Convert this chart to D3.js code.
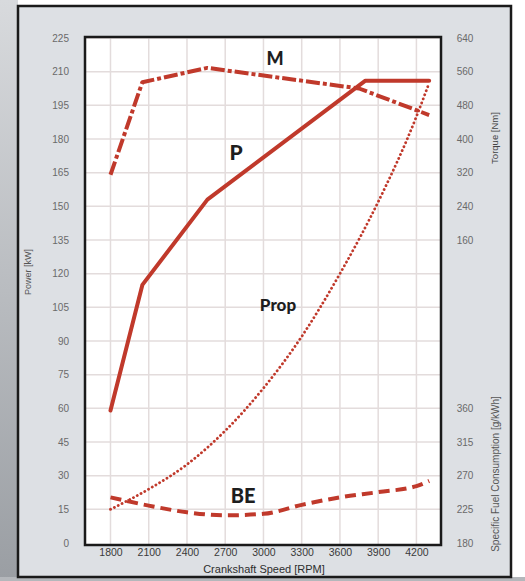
<!DOCTYPE html>
<html>
<head>
<meta charset="utf-8">
<script src="https://cdn.jsdelivr.net/npm/d3@7"></script>
<style>
  body { margin: 0; background: #fff; }
  svg { display: block; }
</style>
</head>
<body>
<div id="chart"></div>
<script>
// engine curves
const rpmPower = [1800, 2050, 2560, 3800, 4300];
const power = [59, 115, 153, 206, 206];

const rpmTorque = [1800, 2050, 2560, 3750, 4300];
const torque = [315, 535, 569, 520, 457];

const rpmProp = [1800, 2100, 2400, 2700, 3000, 3300, 3600, 3900, 4200, 4300];
const propPower = [15, 24, 35, 50, 69, 92, 120, 152, 190, 205];

const rpmBE = [1800, 2100, 2400, 2700, 3000, 3300, 3600, 3900, 4200, 4300];
const sfc = [241, 230, 221, 217, 219, 231, 241, 248, 256, 263];

const rpmTicks = [1800, 2100, 2400, 2700, 3000, 3300, 3600, 3900, 4200];
const powerTicks = d3.range(0, 226, 15);
const torqueTicks = [160, 240, 320, 400, 480, 560, 640];
const sfcTicks = [180, 225, 270, 315, 360];

const W = 525, H = 581;
const red = "#c0392b";
const plotL = 85, plotR = 441, plotT = 37, plotB = 545;

const svg = d3.select("#chart").append("svg")
    .attr("width", W)
    .attr("height", H);

// background panel
let defs = svg.append("defs");
let grad = defs.append("linearGradient").attr("id", "edge").attr("x1", 0).attr("x2", 0).attr("y1", 0).attr("y2", 1);
grad.append("stop").attr("offset", "0%").attr("stop-color", "#d8dadd");
grad.append("stop").attr("offset", "100%").attr("stop-color", "#9a9ea3");
svg.append("rect").attr("x", 0).attr("y", 0).attr("width", 18).attr("height", H).style("fill", "url(#edge)");
svg.append("rect").attr("x", 0).attr("y", 577).attr("width", W).attr("height", 4).style("fill", "#b4b7bb");

svg.append("rect")
    .attr("x", 18).attr("y", 6)
    .attr("width", 493).attr("height", 571)
    .style("fill", "#dde0e4")
    .style("stroke", "#1a1a1a")
    .style("stroke-width", 2.5);

var x = d3.scaleLinear().domain([1600, 4385]).range([plotL, plotR - 1]);
var yP = d3.scaleLinear().domain([0, 225]).range([543, 38]);
var yT = d3.scaleLinear().domain([0, 640]).range([yP(105), yP(225)]);
var yS = d3.scaleLinear().domain([180, 360]).range([yP(0), yP(60)]);

// plot area
svg.append("rect")
    .attr("x", plotL).attr("y", plotT)
    .attr("width", plotR - plotL).attr("height", plotB - plotT)
    .style("fill", "#ffffff");

// grid
svg.append("g").selectAll("line")
    .data(powerTicks.slice(1))
    .enter().append("line")
    .attr("x1", plotL).attr("x2", plotR)
    .attr("y1", (d) => yP(d)).attr("y2", (d) => yP(d))
    .style("stroke", "#e3dcdc").style("stroke-width", 1.5);

svg.append("g").selectAll("line")
    .data(rpmTicks)
    .enter().append("line")
    .attr("x1", (d) => x(d)).attr("x2", (d) => x(d))
    .attr("y1", plotT).attr("y2", plotB)
    .style("stroke", "#e3dcdc").style("stroke-width", 1.5);

svg.append("rect")
    .attr("x", plotL).attr("y", plotT)
    .attr("width", plotR - plotL).attr("height", plotB - plotT)
    .style("fill", "none")
    .style("stroke", "#1a1a1a")
    .style("stroke-width", 2.5);

// axes
let styleAxis = (g, color) => {
    g.select(".domain").remove();
    g.selectAll("text")
        .style("font-family", "'Liberation Sans', Arial, sans-serif")
        .style("font-size", "10px")
        .style("fill", color);
};

svg.append("g")
    .attr("transform", "translate(" + plotL + ",0)")
    .call(d3.axisLeft(yP).tickValues(powerTicks).tickSize(0).tickPadding(16))
    .call((g) => styleAxis(g, "#6a6a6a"));

svg.append("g")
    .attr("transform", "translate(465,0)")
    .call(d3.axisRight(yT).tickValues(torqueTicks).tickSize(0).tickPadding(0))
    .call((g) => styleAxis(g, "#6a6a6a"))
    .selectAll("text").attr("text-anchor", "middle");

svg.append("g")
    .attr("transform", "translate(465,0)")
    .call(d3.axisRight(yS).tickValues(sfcTicks).tickSize(0).tickPadding(0))
    .call((g) => styleAxis(g, "#6a6a6a"))
    .selectAll("text").attr("text-anchor", "middle");

svg.append("g")
    .attr("transform", "translate(0," + plotB + ")")
    .call(d3.axisBottom(x).tickValues(rpmTicks).tickFormat(d3.format("d")).tickSize(0).tickPadding(4))
    .call((g) => styleAxis(g, "#3a3a3a"))
    .selectAll("text").style("font-size", "10.5px");

// axis titles
let title = (txt, tx, ty, rot, size, color) => {
    svg.append("text")
        .attr("transform", "translate(" + tx + "," + ty + ") rotate(" + rot + ")")
        .attr("text-anchor", "middle")
        .attr("dy", "0.35em")
        .style("font-family", "'Liberation Sans', Arial, sans-serif")
        .style("font-size", size + "px")
        .style("fill", color)
        .text(txt);
};
title("Crankshaft Speed [RPM]", 264, 569, 0, 11, "#2e2e2e");
title("Power [kW]", 28, 272, -90, 9, "#555");
title("Torque [Nm]", 495, 138, -90, 9.5, "#444");
title("Specific Fuel Consumption [g/kWh]", 495, 474, -90, 10, "#555");

// curves
let drawCurve = (xs, ys, yScale, curve, width, dash, cap) => {
    let pts = xs.map((d, i) => [d, ys[i]]);
    let line = d3.line()
        .x((d) => x(d[0]))
        .y((d) => yScale(d[1]))
        .curve(curve);
    svg.append("path")
        .datum(pts)
        .attr("d", line)
        .style("fill", "none")
        .style("stroke", red)
        .style("stroke-width", width)
        .style("stroke-dasharray", dash)
        .style("stroke-linecap", cap)
        .style("stroke-linejoin", "round");
};

drawCurve(rpmProp, propPower, yP, d3.curveMonotoneX, 2.8, "0.1,4.2", "round");
drawCurve(rpmBE, sfc, yS, d3.curveMonotoneX, 4, "11,6", "butt");
drawCurve(rpmPower, power, yP, d3.curveLinear, 4, null, "round");
drawCurve(rpmTorque, torque, yT, d3.curveLinear, 4, "14,3,4,3", "butt");

// curve labels
let label = (txt, lx, ly, size) => {
    svg.append("text")
        .attr("x", lx).attr("y", ly)
        .attr("text-anchor", "middle")
        .style("font-family", "Lato, 'DejaVu Sans', sans-serif")
        .style("font-weight", "900")
        .style("font-size", size + "px")
        .style("fill", "#1e1e1e")
        .text(txt);
};
label("M", 275, 65, 18);
label("P", 236, 160, 21);
label("Prop", 278, 311, 17);
label("BE", 243, 503, 20);
</script>
</body>
</html>
